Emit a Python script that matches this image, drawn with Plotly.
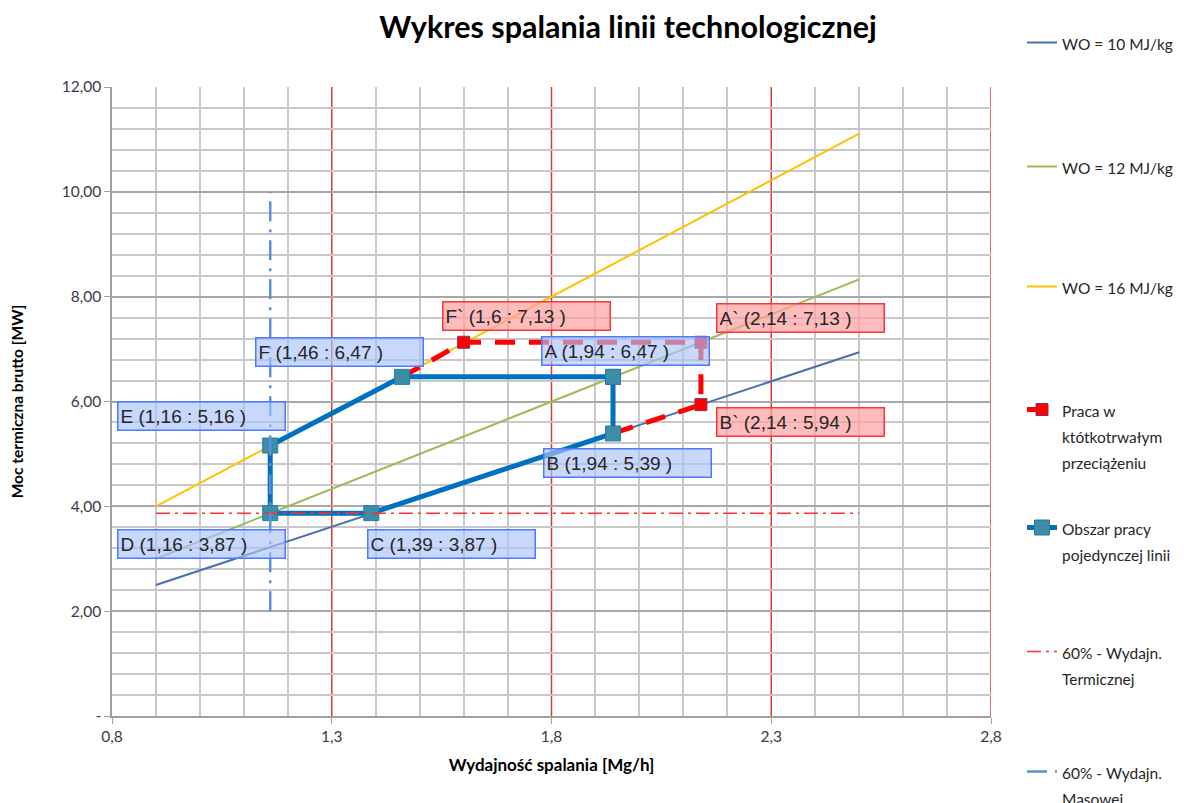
import plotly.graph_objects as go

# ---------------- data ----------------
wo_x = [0.9, 2.5]
wo10_y = [2.50, 6.94]
wo12_y = [3.00, 8.33]
wo16_y = [4.00, 11.11]

# single-line operating area (A,B,C,D,E,F,A)
area_names = ["A", "B", "C", "D", "E", "F"]
area_x = [1.94, 1.94, 1.39, 1.16, 1.16, 1.46]
area_y = [6.47, 5.39, 3.87, 3.87, 5.16, 6.47]

# short-term overload (F, F`, A`, B`, B)
over_names = ["F`", "A`", "B`"]
over_x = [1.6, 2.14, 2.14]
over_y = [7.13, 7.13, 5.94]

term60_x = [0.9, 2.5]
term60_y = [3.87, 3.87]
mass60_x = [1.16, 1.16]
mass60_y = [2.0, 10.0]

x_tickvals = [0.8, 1.3, 1.8, 2.3, 2.8]
x_ticktext = ["0,8", "1,3", "1,8", "2,3", "2,8"]
y_tickvals = [0, 2, 4, 6, 8, 10, 12]
y_ticktext = ["-", "2,00", "4,00", "6,00", "8,00", "10,00", "12,00"]

legend_lines = [["WO = 10 MJ/kg"], ["WO = 12 MJ/kg"], ["WO = 16 MJ/kg"],
                ["Praca w", "któtkotrwałym", "przeciążeniu"],
                ["Obszar pracy", "pojedynczej linii"],
                ["60% - Wydajn.", "Termicznej"],
                ["60% - Wydajn.", "Masowej"]]

# ---------------- layout helpers (positions only) ----------------
x_minor_grid = [round(0.8 + 0.1 * i, 2) for i in range(21)]
x_minor_grid = [v for v in x_minor_grid if v not in x_tickvals]
y_minor_grid = [round(0.4 * i, 2) for i in range(31)]
y_minor_grid = [v for v in y_minor_grid if v not in y_tickvals]

area_label_pos = [(1.775, 7.25), (1.78, 5.11), (1.38, 3.57), (0.811, 3.57), (0.811, 6.01), (1.125, 7.23)]
over_label_pos = [(1.55, 7.92), (2.175, 7.88), (2.175, 5.90)]

PAGE_OFF = 8  # page body margin in the browser
LEG_TEXT_PX = 15.5
LEG_LINE_FONT = 20  # sets line spacing of multi-line legend entries


def fmt(v):
    return str(v).replace(".", ",")


def leg_name(lines):
    return "<br>".join(f'<span style="font-size:{LEG_TEXT_PX}px">{t}</span>' for t in lines)


legend_names = [leg_name(l) for l in legend_lines]

fig = go.Figure()

fig.add_trace(go.Scatter(x=wo_x, y=wo10_y, mode="lines", name=legend_names[0],
                         line=dict(color="#4A70A8", width=2), legend="legend"))
fig.add_trace(go.Scatter(x=wo_x, y=wo12_y, mode="lines", name=legend_names[1],
                         line=dict(color="#9BBB59", width=2), legend="legend2"))
fig.add_trace(go.Scatter(x=wo_x, y=wo16_y, mode="lines", name=legend_names[2],
                         line=dict(color="#FFC000", width=2), legend="legend3"))

red_x = [area_x[5]] + over_x + [area_x[1]]
red_y = [area_y[5]] + over_y + [area_y[1]]
fig.add_trace(go.Scatter(x=red_x, y=red_y, mode="lines+markers", name=legend_names[3],
                         line=dict(color="#FF0000", width=5, dash="20px,14px"),
                         marker=dict(symbol="square", size=12, color="#FF0000",
                                     line=dict(color="#8A3060", width=1)),
                         legend="legend4"))

blue_x = area_x + [area_x[0]]
blue_y = area_y + [area_y[0]]
fig.add_trace(go.Scatter(x=blue_x, y=blue_y, mode="lines+markers", name=legend_names[4],
                         line=dict(color="#0070C0", width=5),
                         marker=dict(symbol="square", size=15, color="#3C8DAA",
                                     line=dict(color="#2D7B9A", width=1)),
                         legend="legend5"))

fig.add_trace(go.Scatter(x=term60_x, y=term60_y, mode="lines", name=legend_names[5],
                         line=dict(color="#FF3030", width=1.5, dash="14px,5px,3px,5px"),
                         legend="legend6"))
fig.add_trace(go.Scatter(x=mass60_x, y=mass60_y, mode="lines", name=legend_names[6],
                         line=dict(color="#5B8FD9", width=2.5, dash="20px,8px,3px,8px"),
                         legend="legend7"))

annotations = []
for nm, xv, yv, pos in zip(area_names, area_x, area_y, area_label_pos):
    annotations.append(dict(x=pos[0], y=pos[1], xref="x", yref="y", xanchor="left", yanchor="top",
                            text=f"{nm} ({fmt(xv)} : {fmt(yv)} )", showarrow=False, align="left",
                            width=162, height=23, borderpad=2,
                            bgcolor="rgba(170,195,250,0.65)", bordercolor="#4D79FF", borderwidth=1.5,
                            font=dict(family="Liberation Sans", size=19, color="#262626")))
for nm, xv, yv, pos in zip(over_names, over_x, over_y, over_label_pos):
    annotations.append(dict(x=pos[0], y=pos[1], xref="x", yref="y", xanchor="left", yanchor="top",
                            text=f"{nm} ({fmt(xv)} : {fmt(yv)} )", showarrow=False, align="left",
                            width=162, height=23, borderpad=2,
                            bgcolor="rgba(255,160,160,0.7)", bordercolor="#FF3333", borderwidth=1.5,
                            font=dict(family="Liberation Sans", size=19, color="#262626")))

# red major vertical gridlines, drawn above the grey grid and below the data
shapes = [dict(type="line", xref="x", yref="paper", x0=v, x1=v, y0=0, y1=1, layer="between",
               line=dict(color="#D83A3A", width=1.5)) for v in x_tickvals[1:]]

fig.update_layout(
    width=1190, height=803,
    showlegend=True,
    margin=dict(l=112 - PAGE_OFF, r=199 + PAGE_OFF, t=87 - PAGE_OFF, b=87 + PAGE_OFF, autoexpand=False),
    paper_bgcolor="white", plot_bgcolor="white",
    title=dict(text="<b>Wykres spalania linii technologicznej</b>", x=(628 - PAGE_OFF) / 1190,
               xref="container", xanchor="center", y=1 - (27 - PAGE_OFF) / 803, yref="container",
               yanchor="middle", font=dict(family="Lato", size=30.5, color="black")),
    annotations=annotations,
    shapes=shapes,
    xaxis=dict(range=[0.8, 2.8], tickmode="array", tickvals=x_tickvals, ticktext=x_ticktext,
               showgrid=False,
               minor=dict(tickmode="array", tickvals=x_minor_grid, showgrid=True,
                          gridcolor="#C8C8C8", gridwidth=1.5, ticks=""),
               showline=True, linecolor="#A0A0A0", linewidth=1.5,
               ticks="outside", ticklen=6, tickcolor="#A0A0A0",
               zeroline=False,
               tickfont=dict(family="Lato", size=15.5, color="#3A3A4A"),
               title=dict(text="<b>Wydajność spalania [Mg/h]</b>", standoff=15,
                          font=dict(family="Lato", size=17, color="black"))),
    yaxis=dict(range=[0, 12], tickmode="array", tickvals=y_tickvals, ticktext=y_ticktext,
               showgrid=True, gridcolor="#A8A8A8", gridwidth=1.5,
               minor=dict(tickmode="array", tickvals=y_minor_grid, showgrid=True,
                          gridcolor="#C8C8C8", gridwidth=1.5, ticks=""),
               showline=True, linecolor="#A0A0A0", linewidth=1.5,
               ticks="outside", ticklen=6, tickcolor="#A0A0A0",
               zeroline=False,
               tickfont=dict(family="Lato", size=15.5, color="#3A3A4A"),
               title=dict(text="<b>Moc termiczna brutto [MW]</b>", standoff=42,
                          font=dict(family="Lato", size=15.5, color="black"))),
)

# first-line text centres in screen px and offset of text centre below legend top
leg_centres = [42, 166, 286, 410, 528, 652, 772]
leg_offsets = [19, 19, 19, 20, 20, 20, 20]
leg_keys = ["legend", "legend2", "legend3", "legend4", "legend5", "legend6", "legend7"]
leg_x = (1022 - PAGE_OFF) / 1190
for key, c, off in zip(leg_keys, leg_centres, leg_offsets):
    fig.update_layout({key: dict(x=leg_x, y=1 - (c - PAGE_OFF - off) / 803, xanchor="left",
                                 yanchor="top", xref="container", yref="container",
                                 bgcolor="rgba(0,0,0,0)",
                                 font=dict(family="Lato", size=LEG_LINE_FONT, color="#262626"),
                                 valign="top")})

fig.write_html("out.html")
